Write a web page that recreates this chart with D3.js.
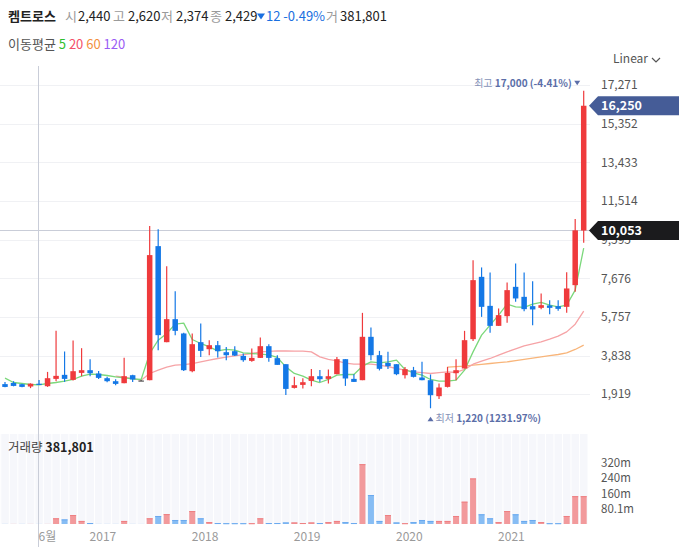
<!DOCTYPE html>
<html><head><meta charset="utf-8">
<script src="https://cdn.jsdelivr.net/npm/d3@7"></script>
<style>html,body{margin:0;padding:0;background:#fff;}svg{display:block;}</style>
</head><body>
<svg id="chart" width="679" height="547"></svg>
<script>
// ---------- data ----------
const months = ["2016-03","2016-04","2016-05","2016-06","2016-07","2016-08","2016-09","2016-10","2016-11","2016-12",
"2017-01","2017-02","2017-03","2017-04","2017-05","2017-06","2017-07","2017-08","2017-09","2017-10","2017-11","2017-12",
"2018-01","2018-02","2018-03","2018-04","2018-05","2018-06","2018-07","2018-08","2018-09","2018-10","2018-11","2018-12",
"2019-01","2019-02","2019-03","2019-04","2019-05","2019-06","2019-07","2019-08","2019-09","2019-10","2019-11","2019-12",
"2020-01","2020-02","2020-03","2020-04","2020-05","2020-06","2020-07","2020-08","2020-09","2020-10","2020-11","2020-12",
"2021-01","2021-02","2021-03","2021-04","2021-05","2021-06","2021-07","2021-08","2021-09","2021-10","2021-11"];
const opens  = [2420,2480,2416,2300,2440,2316,2680,2880,2630,2978,3112,2948,2714,2565,2466,2863,2600,2615,9276,4504,5647,4936,3062,4504,4155,4354,4006,4056,3823,3574,3723,4305,3708,3410,2232,2381,2580,2813,2680,2913,3659,2680,2615,4770,3857,3475,3410,2863,3112,2749,2615,1820,2282,2963,3196,4653,7750,6308,5314,5796,7253,6756,6293,6209,6328,6293,6259,7337,10050];
const highs  = [2530,2565,2440,2460,2620,3027,5066,4041,4588,4205,3659,3077,2780,2664,3724,2880,2620,10270,10120,8282,7039,4970,4936,5433,4603,4568,4270,4305,3942,4190,4737,4404,3857,3410,2780,2714,3177,3127,3146,3773,3659,2913,5960,5234,4071,4022,3410,3276,3276,3525,2898,2450,3276,3659,5066,8580,8217,7968,6179,7471,8416,7968,7536,6925,6591,6591,7983,10618,17000];
const lows   = [2270,2310,2270,2220,2374,2282,2560,2530,2600,2813,2813,2680,2515,2366,2466,2530,2580,2615,4106,4504,4852,3077,3012,3773,3857,3743,3609,3823,3525,3525,3723,3525,3376,1884,2200,2200,2316,2530,2450,2913,2332,2530,2615,3609,3100,3177,2863,2700,2749,2615,1220,1685,2252,2615,3196,4568,5761,4966,5314,5463,6507,6045,5349,6144,5896,6060,5960,7004,9440];
const closes = [2280,2330,2282,2441,2429,2714,2830,2680,3062,3112,2963,2730,2565,2431,2813,2650,2600,8830,4852,5647,5066,3112,4404,4071,4354,4056,3857,3840,3609,3723,4305,3723,3376,2182,2366,2515,2813,2664,2813,3659,2700,2530,4770,3857,3180,3311,2913,3162,2780,2615,1869,2252,2978,3112,4603,7586,6259,5314,5846,7089,6676,6144,6130,6343,6209,6159,7172,10060,16250];
// volume, millions
const volumes = [0.5,0.5,0.5,0.5,0.381801,0.5,30,24,47,16,5,0.5,0.5,0.5,16,0.5,0.3,30,42,52,21,21,68,30,10,5,4,4,4,4,30,5,5,8,8,5,8,5,10,16,10,5,314,152,16,47,8,4,10,21,16,16,16,42,117,239,51,30,10,68,51,16,21,10,4,4,42,146,146];
const ma5  = [2714,2500,2451,2401,2381,2451,2500,2565,2650,2814,2913,2898,2848,2779,2729,2679,2650,3942,4603,4936,5398,5448,4638,4439,4270,4071,4141,4106,3972,3942,3907,3872,3743,3276,2948,2814,2615,2500,2650,2863,2898,2898,3311,3524,3475,3524,3609,3147,2978,2863,2650,2565,2565,2615,3112,4022,4852,5349,5846,6393,6258,6229,6393,6477,6343,6258,6343,7089,9177];
const ma20 = [null,null,null,null,null,null,null,null,null,null,null,null,null,2813,2764,2689,2615,2948,3112,3261,3360,3385,3435,3524,3609,3693,3758,3823,3882,3942,4022,4046,4071,4066,4056,4056,4022,3773,3644,3574,3460,3410,3410,3410,3360,3286,3196,3112,3027,2988,2948,2988,3027,2998,3147,3410,3559,3693,3857,4022,4171,4320,4419,4519,4653,4802,5016,5398,6045];
const ma60 = [null,null,null,null,null,null,null,null,null,null,null,null,null,null,null,null,null,null,null,null,null,null,null,null,null,null,null,null,null,null,null,null,null,null,null,null,null,null,null,null,null,null,null,null,null,null,null,null,null,null,null,null,3261,3286,3311,3360,3400,3445,3485,3524,3584,3644,3708,3773,3833,3892,3972,4141,4355];
const ma120 = [];
const priceTicks = [1919,3838,5757,7676,9595,11514,13433,15352,17271];
const volTicks = [80.1,160,240,320];
const volTickLabels = ["80.1m","160m","240m","320m"];
const xTickIdx = [4,10,22,34,46,58];
const xTickLabels = ["6월","2017","2018","2019","2020","2021"];
const stockName = "켐트로스";
const hoverIdx = 4;
const crossPrice = 10053;
const maPeriods = ["5","20","60","120"];

// ---------- setup ----------
const FONT = "'Noto Sans CJK KR','Noto Sans',sans-serif";
const RED = "#ef3a3c", BLUE = "#1478e6";
const svg = d3.select("#chart").attr("font-family", FONT);
const N = closes.length;
const x = d3.scaleLinear().domain([0, N - 1]).range([5, 583.7]);
const y = d3.scaleLinear().domain([1919, 17271]).range([394.2, 85.2]);
const yv = d3.scaleLinear().domain([0, 320]).range([524, 463]);
const fmt = d3.format(",");
const plotRight = 590;

// grid
svg.append("g").selectAll("line").data(priceTicks).join("line")
  .attr("x1", 0).attr("x2", plotRight)
  .attr("y1", d => Math.round(y(d)) + 0.5).attr("y2", d => Math.round(y(d)) + 0.5)
  .attr("stroke", "#f0f1f4").attr("stroke-width", 1);

// volume pane stripes
svg.append("g").selectAll("rect").data(d3.range(-1, N)).join("rect")
  .attr("x", i => x(i) - 3.7).attr("width", 7.5)
  .attr("y", 434).attr("height", 90)
  .attr("fill", "#f6f7fb");

// crosshair
svg.append("line").attr("x1", 0).attr("x2", plotRight)
  .attr("y1", Math.round(y(crossPrice)) + 0.5).attr("y2", Math.round(y(crossPrice)) + 0.5)
  .attr("stroke", "#c9cdd8").attr("stroke-width", 1);
svg.append("line").attr("x1", Math.round(x(hoverIdx)) - 0.5).attr("x2", Math.round(x(hoverIdx)) - 0.5)
  .attr("y1", 66).attr("y2", 547)
  .attr("stroke", "#c9cdd8").attr("stroke-width", 1);

// moving averages
const line = d3.line().defined(d => d != null).x((d, i) => x(i)).y(d => y(d));
const maDefs = [[ma120, "#a77cf3"], [ma60, "#f8b57a"], [ma20, "#f6a3a6"], [ma5, "#7bd87b"]];
maDefs.forEach(([arr, c]) => {
  if (!arr.length) return;
  svg.append("path").datum(arr).attr("d", line)
    .attr("fill", "none").attr("stroke", c).attr("stroke-width", 1.3).attr("stroke-linejoin", "round");
});

// candles
const idx = d3.range(N);
const cColor = i => closes[i] > opens[i] ? RED : (closes[i] < opens[i] ? BLUE : "#555");
const cg = svg.append("g");
cg.selectAll("line").data(idx).join("line")
  .attr("x1", i => x(i)).attr("x2", i => x(i))
  .attr("y1", i => y(highs[i])).attr("y2", i => y(lows[i]))
  .attr("stroke", cColor).attr("stroke-width", 1.2);
cg.selectAll("rect").data(idx).join("rect")
  .attr("x", i => x(i) - 2.75).attr("width", 5.5)
  .attr("y", i => y(Math.max(opens[i], closes[i])))
  .attr("height", i => Math.max(1.2, Math.abs(y(opens[i]) - y(closes[i]))))
  .attr("fill", cColor);

// volume bars
const vUp = i => i === 0 ? closes[0] >= opens[0] : closes[i] >= closes[i - 1];
const vg = svg.append("g");
vg.selectAll("rect").data(idx).join("rect")
  .attr("x", i => x(i) - 3).attr("width", 6)
  .attr("y", i => yv(volumes[i])).attr("height", i => yv(0) - yv(volumes[i]))
  .attr("fill", i => vUp(i) ? "#f29a9c" : "#87bdf4");
vg.selectAll("line").data(idx.filter(i => volumes[i] > 2)).join("line")
  .attr("x1", i => x(i) - 3).attr("x2", i => x(i) + 3)
  .attr("y1", i => yv(volumes[i]) + 0.5).attr("y2", i => yv(volumes[i]) + 0.5)
  .attr("stroke", i => vUp(i) ? "#ee7f82" : "#6aa9ef").attr("stroke-width", 1);

// price axis labels
svg.append("g").selectAll("text").data(priceTicks).join("text")
  .attr("x", 601).attr("y", d => y(d)).attr("dy", "0.35em")
  .attr("font-size", 12).attr("fill", "#555").text(d => fmt(d));
// volume axis labels
svg.append("g").selectAll("text").data(volTicks).join("text")
  .attr("x", 601).attr("y", d => yv(d)).attr("dy", "0.35em")
  .attr("font-size", 11.5).attr("fill", "#555").text((d, i) => volTickLabels[i]);
// x axis labels
svg.append("g").selectAll("text").data(xTickIdx).join("text")
  .attr("x", i => x(i) - 0.5).attr("y", 540.5)
  .attr("font-size", 12).attr("fill", "#9a9a9a").text((d, k) => xTickLabels[k]);

// price label boxes
function priceTag(val, color) {
  const yy = y(val);
  svg.append("path").attr("d", `M589,${yy} L598,${yy - 9.5} L679,${yy - 9.5} L679,${yy + 9.5} L598,${yy + 9.5} Z`)
    .attr("fill", color);
  svg.append("text").attr("x", 601).attr("y", yy).attr("dy", "0.35em")
    .attr("font-size", 12.5).attr("font-weight", "bold").attr("fill", "#fff").text(fmt(val));
}
priceTag(crossPrice, "#1b1b1d");
priceTag(closes[N - 1], "#455c97");

// high / low annotations
const hiIdx = d3.maxIndex(highs), loIdx = d3.minIndex(lows);
const last = closes[N - 1];
const hiPct = (last / highs[hiIdx] - 1) * 100, loPct = (last / lows[loIdx] - 1) * 100;
const annC = "#5b6ea8";
const hx = x(hiIdx), hy = y(highs[hiIdx]);
svg.append("path").attr("d", `M${hx - 9.5},${hy - 10} L${hx - 3.5},${hy - 10} L${hx - 6.5},${hy - 5.5} Z`).attr("fill", annC);
const ht = svg.append("text").attr("x", hx - 12).attr("y", hy - 4).attr("text-anchor", "end").attr("font-size", 10);
ht.append("tspan").attr("fill", "#8592b8").text("최고 ");
ht.append("tspan").attr("fill", annC).attr("font-weight", "bold").text(`${fmt(highs[hiIdx])} (${hiPct.toFixed(2)}%)`);
const lx = x(loIdx), ly = y(lows[loIdx]);
svg.append("path").attr("d", `M${lx - 3},${ly + 13} L${lx + 3},${ly + 13} L${lx},${ly + 8.5} Z`).attr("fill", annC);
const lt = svg.append("text").attr("x", lx + 5).attr("y", ly + 14).attr("font-size", 10);
lt.append("tspan").attr("fill", "#8592b8").text("최저 ");
lt.append("tspan").attr("fill", annC).attr("font-weight", "bold").text(`${fmt(lows[loIdx])} (${loPct.toFixed(2)}%)`);

// header
const h = hoverIdx;
const chg = closes[h] - closes[h - 1];
const chgPct = chg / closes[h - 1] * 100;
const head = svg.append("g").attr("font-size", 13);
head.append("text").attr("x", 8).attr("y", 21).attr("font-weight", "bold").attr("fill", "#222").text(stockName);
const items = [["시", 65, opens[h], 78], ["고", 113, highs[h], 128], ["저", 161, lows[h], 176], ["종", 210, closes[h], 225]];
items.forEach(([lab, lx0, val, vx]) => {
  head.append("text").attr("x", lx0).attr("y", 21).attr("fill", "#9a9a9a").text(lab);
  head.append("text").attr("x", vx).attr("y", 21).attr("fill", "#222").text(fmt(val));
});
const chgColor = chg < 0 ? "#1a6fe0" : "#e8323a";
head.append("path").attr("d", chg < 0 ? "M257,13.5 L265,13.5 L261,19.5 Z" : "M257,19.5 L265,19.5 L261,13.5 Z").attr("fill", chgColor);
head.append("text").attr("x", 266).attr("y", 21).attr("fill", chgColor).text(`${Math.abs(chg)} ${chgPct.toFixed(2)}%`);
head.append("text").attr("x", 326).attr("y", 21).attr("fill", "#9a9a9a").text("거");
head.append("text").attr("x", 340).attr("y", 21).attr("fill", "#222").text(fmt(Math.round(volumes[h] * 1e6)));

const l2 = svg.append("text").attr("x", 8).attr("y", 48.5).attr("font-size", 13);
l2.append("tspan").attr("fill", "#555").text("이동평균 ");
const maCols = ["#2fbf2f", "#f4506a", "#f39040", "#9a5cf5"];
maPeriods.forEach((p, k) => l2.append("tspan").attr("fill", maCols[k]).text(p + " "));

// Linear dropdown
svg.append("text").attr("x", 613).attr("y", 63).attr("font-size", 12).attr("fill", "#555").text("Linear");
svg.append("path").attr("d", "M652,58 L656,62 L660,58").attr("fill", "none").attr("stroke", "#555").attr("stroke-width", 1.2);

// volume label
const vl = svg.append("text").attr("x", 8).attr("y", 452).attr("font-size", 12.5);
vl.append("tspan").attr("fill", "#444").text("거래량 ");
vl.append("tspan").attr("fill", "#222").attr("font-weight", "bold").text(fmt(Math.round(volumes[h] * 1e6)));
</script>
</body></html>
